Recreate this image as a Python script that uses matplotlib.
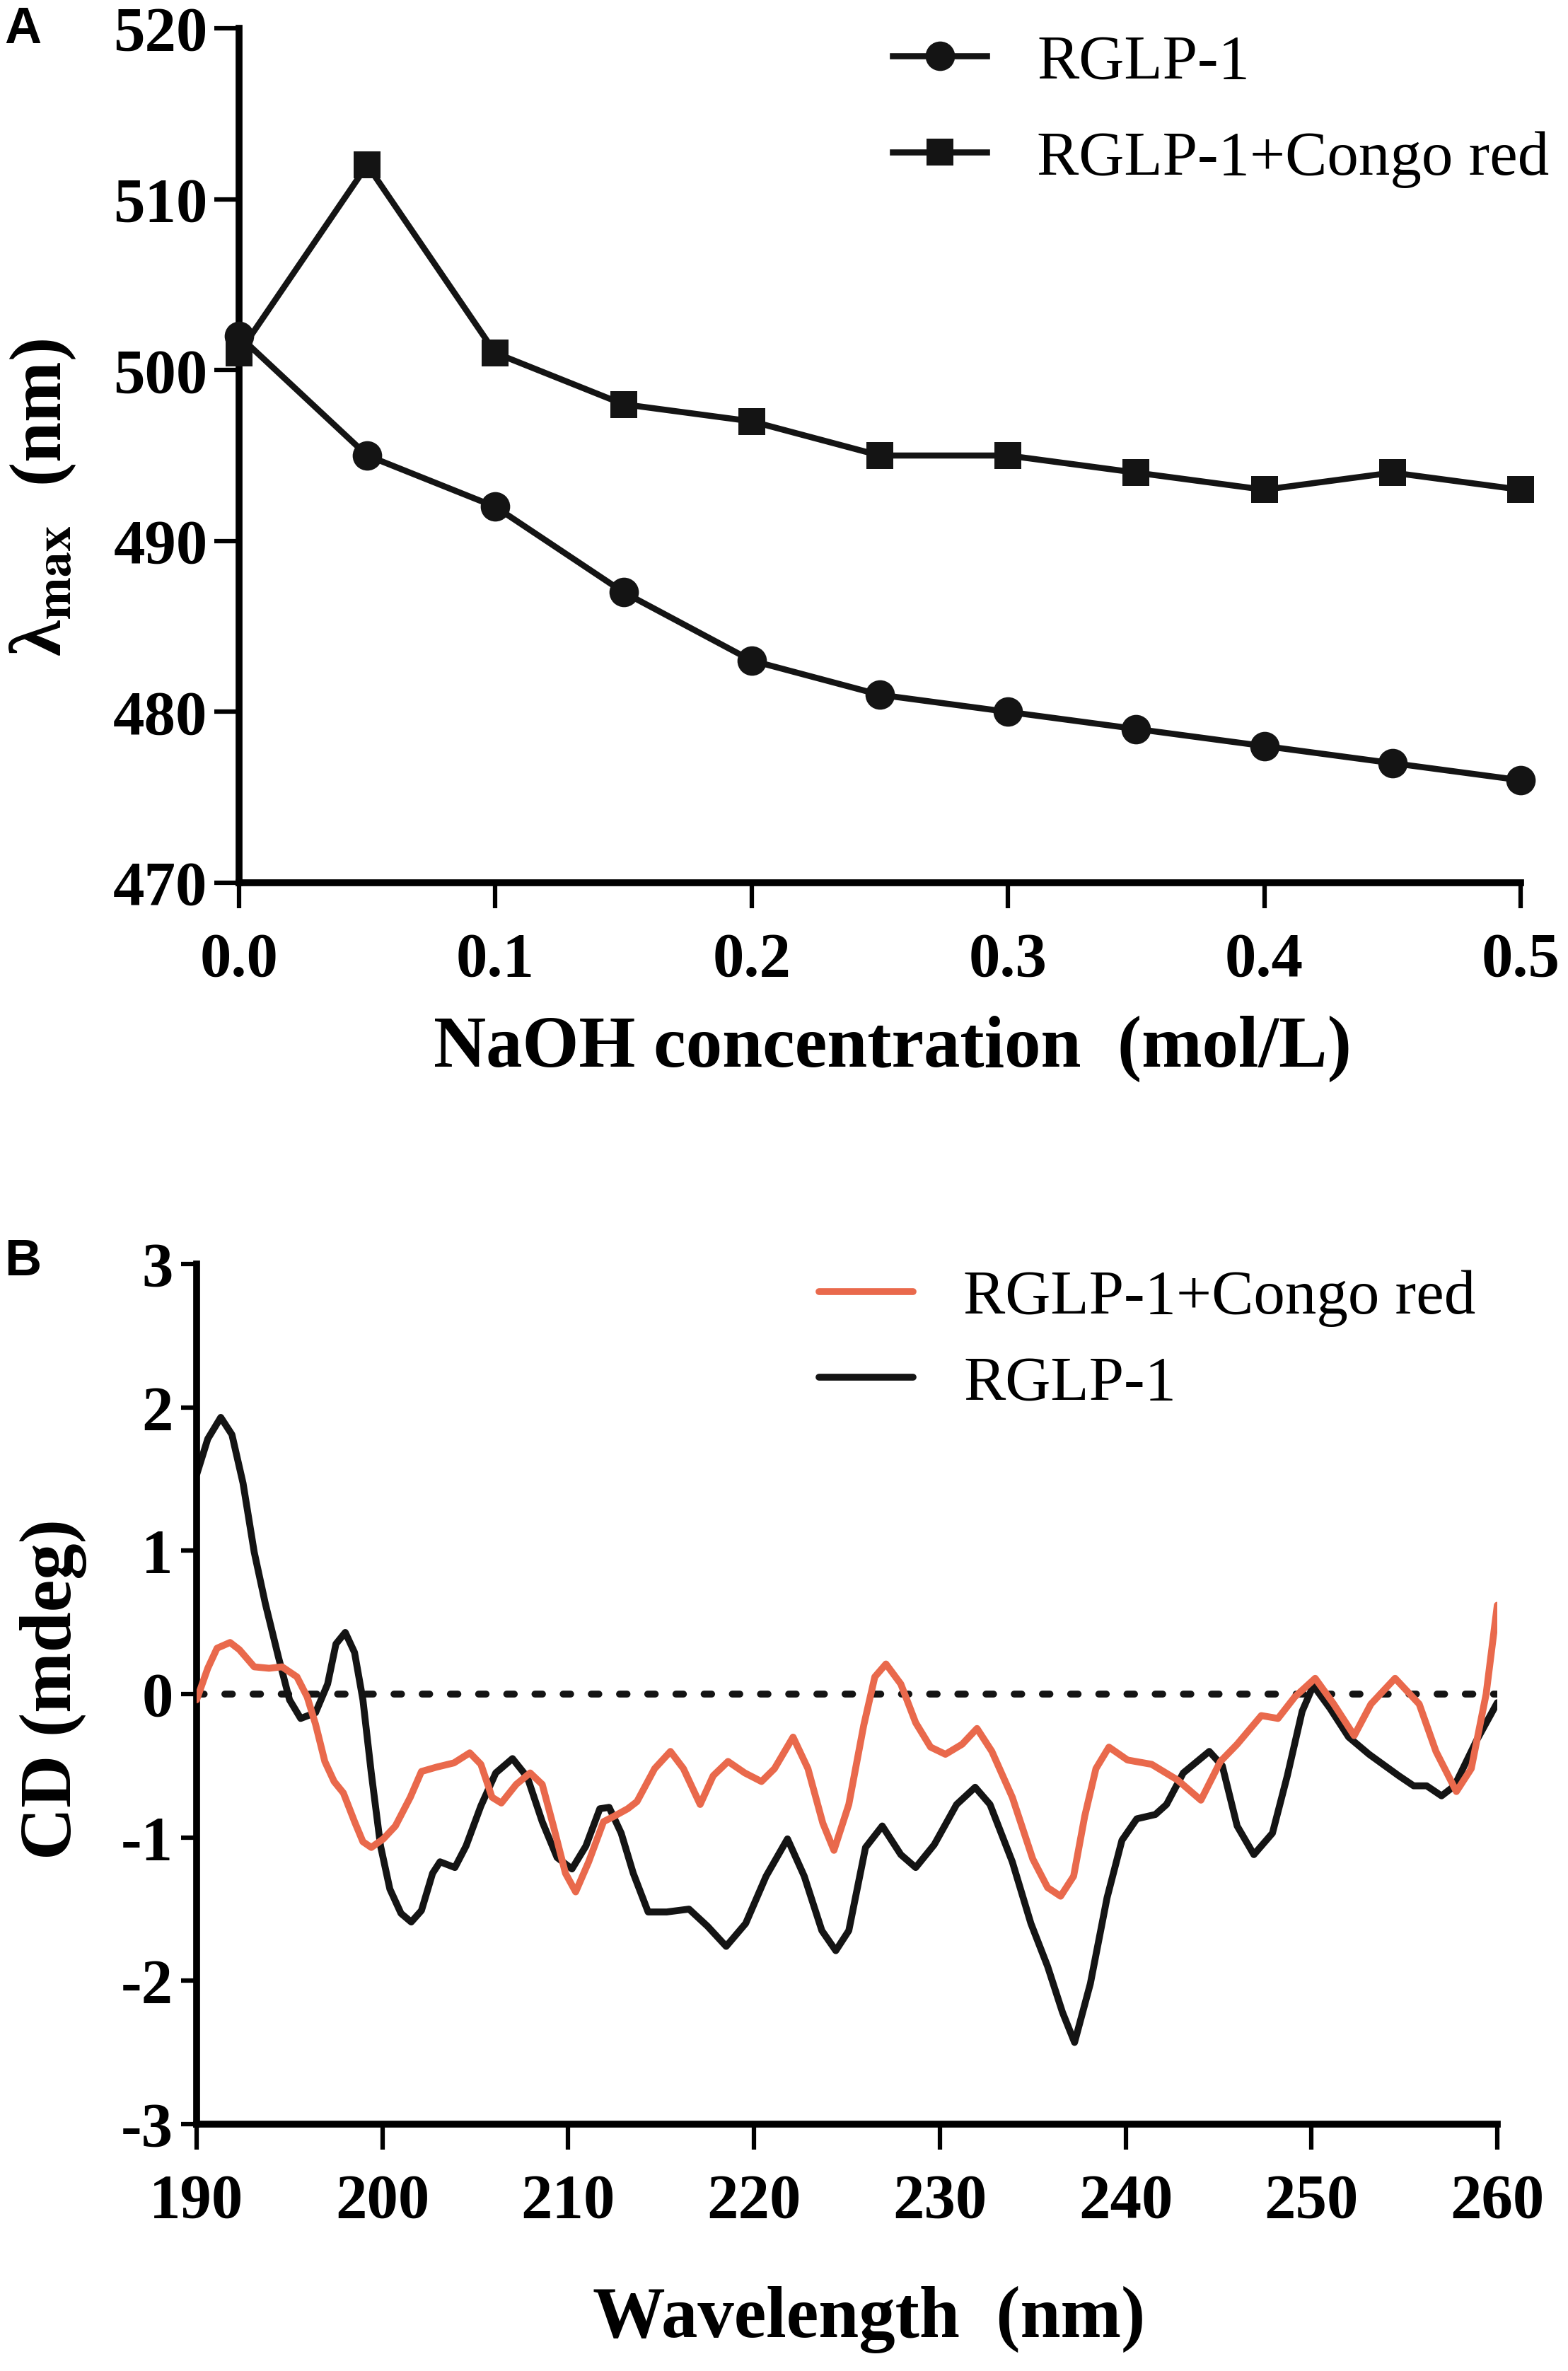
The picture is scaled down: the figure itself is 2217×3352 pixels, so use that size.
import matplotlib
matplotlib.use("Agg")
import matplotlib.pyplot as plt

# ---------------- Data ----------------
naoh = [0.0, 0.05, 0.10, 0.15, 0.20, 0.25, 0.30, 0.35, 0.40, 0.45, 0.50]
lam_rglp = [502, 495, 492, 487, 483, 481, 480, 479, 478, 477, 476]
lam_congo = [501, 512, 501, 498, 497, 495, 495, 494, 493, 494, 493]

wl_black = [190.0, 190.6, 191.3, 191.9, 192.5, 193.1, 193.7, 194.4, 195.0, 195.6,
            196.4, 197.05, 197.5, 198.0, 198.5, 198.95, 199.4, 199.9, 200.4, 201.0,
            201.55, 202.1, 202.7, 203.1, 203.9, 204.5, 205.3, 206.1, 207.0, 207.8,
            208.6, 209.4, 210.2, 210.95, 211.7, 212.2, 212.85, 213.5, 214.3, 215.3,
            216.5, 217.5, 218.5, 219.55, 220.65, 221.8, 222.7, 223.65, 224.4, 225.1,
            226.0, 226.9, 227.9, 228.7, 229.7, 230.9, 231.9, 232.7, 233.9, 234.9,
            235.8, 236.6, 237.25, 238.1, 239.0, 239.8, 240.6, 241.6, 242.2, 243.1,
            244.5, 245.2, 246.0, 246.9, 247.9, 248.7, 249.5, 250.1, 251.0, 252.0,
            253.1, 254.7, 255.5, 256.2, 257.0, 257.7, 258.9, 260.0]
cd_black = [1.53, 1.78, 1.93, 1.81, 1.47, 0.99, 0.63, 0.26, -0.04, -0.17,
            -0.13, 0.07, 0.35, 0.43, 0.29, -0.04, -0.55, -1.06, -1.36, -1.53,
            -1.59, -1.51, -1.25, -1.17, -1.21, -1.06, -0.78, -0.55, -0.45, -0.58,
            -0.89, -1.14, -1.22, -1.06, -0.80, -0.79, -0.97, -1.25, -1.52, -1.52,
            -1.50, -1.62, -1.76, -1.60, -1.27, -1.01, -1.27, -1.65, -1.79, -1.65,
            -1.07, -0.92, -1.12, -1.21, -1.05, -0.77, -0.65, -0.77, -1.17, -1.60,
            -1.90, -2.22, -2.43, -2.02, -1.42, -1.02, -0.87, -0.84, -0.77, -0.55,
            -0.40, -0.50, -0.92, -1.12, -0.97, -0.57, -0.12, 0.06, -0.10, -0.30,
            -0.42, -0.57, -0.64, -0.64, -0.71, -0.64, -0.32, -0.06]

wl_red = [190.0, 190.6, 191.1, 191.8, 192.3, 193.1, 193.9, 194.6, 195.4, 195.95,
          196.4, 196.9, 197.4, 197.9, 198.5, 198.95, 199.4, 200.05, 200.7, 201.5,
          202.1, 202.9, 203.85, 204.7, 205.3, 205.9, 206.4, 207.2, 207.95, 208.6,
          209.2, 209.85, 210.4, 211.1, 211.9, 212.5, 213.2, 213.7, 214.65, 215.5,
          216.2, 217.1, 217.8, 218.6, 219.5, 220.4, 221.1, 222.1, 222.9, 223.7,
          224.3, 225.1, 225.9, 226.5, 227.1, 227.9, 228.7, 229.5, 230.3, 231.2,
          232.0, 232.8, 233.9, 235.0, 235.8, 236.5, 237.2, 237.8, 238.4, 239.1,
          240.1, 241.4, 242.8, 244.05, 245.1, 246.0, 247.3, 248.2, 249.1, 250.2,
          251.2, 252.3, 253.2, 254.5, 255.8, 256.7, 257.8, 258.6, 259.4, 260.0]
cd_red = [-0.04, 0.18, 0.32, 0.36, 0.31, 0.19, 0.18, 0.19, 0.12, -0.02,
          -0.21, -0.47, -0.61, -0.69, -0.89, -1.03, -1.07, -1.01, -0.92, -0.72,
          -0.54, -0.51, -0.48, -0.41, -0.49, -0.72, -0.76, -0.63, -0.55, -0.63,
          -0.92, -1.25, -1.38, -1.17, -0.89, -0.85, -0.80, -0.75, -0.52, -0.40,
          -0.52, -0.77, -0.57, -0.47, -0.55, -0.61, -0.52, -0.30, -0.52, -0.90,
          -1.09, -0.77, -0.22, 0.12, 0.21, 0.07, -0.20, -0.37, -0.42, -0.35,
          -0.24, -0.40, -0.72, -1.15, -1.35, -1.41, -1.27, -0.85, -0.52, -0.37,
          -0.46, -0.49, -0.60, -0.74, -0.47, -0.35, -0.15, -0.17, -0.02, 0.11,
          -0.07, -0.29, -0.07, 0.11, -0.07, -0.40, -0.68, -0.52, 0.00, 0.62]

xticks_a = [0.0, 0.1, 0.2, 0.3, 0.4, 0.5]
xticklabels_a = ["0.0", "0.1", "0.2", "0.3", "0.4", "0.5"]
yticks_a = [470, 480, 490, 500, 510, 520]
xticks_b = [190, 200, 210, 220, 230, 240, 250, 260]
yticks_b = [-3, -2, -1, 0, 1, 2, 3]

RED = "#E9694C"
BLACK = "#141414"

# ---------------- Style ----------------
plt.rcParams["font.family"] = ["Liberation Serif", "DejaVu Serif"]
plt.rcParams["font.weight"] = "bold"
plt.rcParams["mathtext.fontset"] = "stix"
plt.rcParams["axes.unicode_minus"] = False

W, H = 2217, 3352
fig = plt.figure(figsize=(W / 100, H / 100), dpi=100)

SPINE_W = 7
TICK_W = 4.5
TICK_FS = 64
LABEL_FS = 74
LEG_FS = 64

def style_axes(ax):
    for s in ["top", "right"]:
        ax.spines[s].set_visible(False)
    for s in ["left", "bottom"]:
        ax.spines[s].set_linewidth(SPINE_W)
        ax.spines[s].set_capstyle("projecting")

# ---------------- Panel A ----------------
axA = fig.add_axes([338 / W, 1 - 1248 / H, (2150 - 338) / W, (1248 - 40) / H])
style_axes(axA)
axA.plot(naoh, lam_rglp, color=BLACK, lw=6.2, marker="o", ms=30, mew=0,
         clip_on=False, zorder=3, label="RGLP-1")
axA.plot(naoh, lam_congo, color=BLACK, lw=6.2, marker="s", ms=27, mew=0,
         clip_on=False, zorder=4, label="RGLP-1+Congo red")
axA.set_xlim(0, 0.5)
axA.set_ylim(470, 520)
axA.set_xticks(xticks_a)
axA.set_xticklabels(xticklabels_a)
axA.set_yticks(yticks_a)
axA.tick_params(axis="x", direction="out", length=26, width=TICK_W, labelsize=TICK_FS, pad=24)
axA.tick_params(axis="y", direction="out", length=25, width=TICK_W, labelsize=TICK_FS, pad=7)
axA.set_xlabel("NaOH concentration  (mol/L)", fontsize=LABEL_FS, fontweight="bold", va="center")
axA.xaxis.set_label_coords(0.51, -0.194)
axA.set_ylabel("λ$_{\\mathbf{max}}$  (nm)", fontsize=LABEL_FS, fontweight="bold", va="center")
axA.yaxis.set_label_coords(-0.153, 0.451)
legA = axA.legend(loc="upper left", bbox_to_anchor=(1262 / W, 1 - 48 / H),
                  bbox_transform=fig.transFigure, frameon=False, borderpad=0,
                  borderaxespad=0, handlelength=1.5, handletextpad=0.8,
                  labelspacing=0.62, numpoints=1,
                  prop={"family": "Liberation Serif", "weight": "normal", "size": LEG_FS})

# ---------------- Panel B ----------------
axB = fig.add_axes([278 / W, 1 - 3003 / H, (2117 - 278) / W, (3003 - 1787) / H])
style_axes(axB)
axB.axhline(0, color=BLACK, lw=7, linestyle=(0, (1.1, 3.0)), dash_capstyle="round", zorder=1)
axB.plot(wl_black, cd_black, color=BLACK, lw=7, solid_joinstyle="round",
         solid_capstyle="round", zorder=2, label="RGLP-1")
axB.plot(wl_red, cd_red, color=RED, lw=7, solid_joinstyle="round",
         solid_capstyle="round", zorder=3, label="RGLP-1+Congo red")
axB.set_xlim(190, 260)
axB.set_ylim(-3, 3)
axB.set_xticks(xticks_b)
axB.set_yticks(yticks_b)
axB.tick_params(axis="x", direction="out", length=26, width=TICK_W, labelsize=TICK_FS, pad=24)
axB.tick_params(axis="y", direction="out", length=16, width=TICK_W, labelsize=TICK_FS, pad=8)
axB.set_xlabel("Wavelength  (nm)", fontsize=LABEL_FS, fontweight="bold", va="center")
axB.xaxis.set_label_coords(0.517, -0.227)
axB.set_ylabel("CD (mdeg)", fontsize=LABEL_FS, fontweight="bold", va="center")
axB.yaxis.set_label_coords(-0.110, 0.506)
hB, lB = axB.get_legend_handles_labels()
legB = axB.legend([hB[1], hB[0]], [lB[1], lB[0]], loc="upper left",
                  bbox_to_anchor=(1158 / W, 1 - 1795 / H),
                  bbox_transform=fig.transFigure, frameon=False, borderpad=0,
                  borderaxespad=0, handlelength=1.5, handletextpad=0.8,
                  labelspacing=0.45,
                  prop={"family": "Liberation Serif", "weight": "normal", "size": LEG_FS})

# ---------------- Panel letters ----------------
fig.text(6 / W, 1 - 8 / H, "A", fontsize=52, fontweight="bold",
         family=["Liberation Sans", "DejaVu Sans"], ha="left", va="top")
fig.text(6 / W, 1 - 1750 / H, "B", fontsize=52, fontweight="bold",
         family=["Liberation Sans", "DejaVu Sans"], ha="left", va="top")

fig.savefig("out.png", dpi=100, facecolor="white")
